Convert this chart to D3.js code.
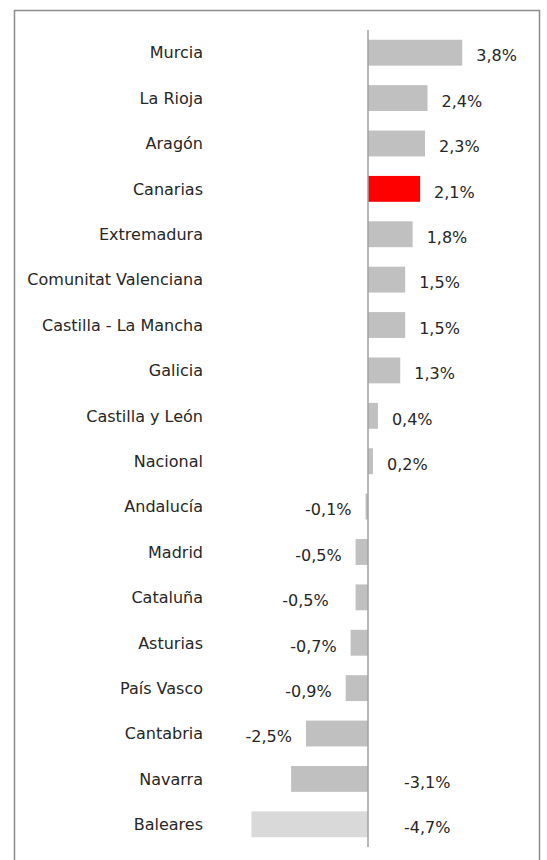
<!DOCTYPE html>
<html><head><meta charset="utf-8">
<script src="https://cdn.jsdelivr.net/npm/d3@7"></script>
<style>
html,body{margin:0;padding:0;background:#fff;}
svg{display:block;}
text{font-family:"DejaVu Sans",Verdana,sans-serif;}
</style></head>
<body><svg id="chart" width="547" height="860"></svg>
<script>
const regions = ["Murcia","La Rioja","Aragón","Canarias","Extremadura","Comunitat Valenciana","Castilla - La Mancha","Galicia","Castilla y León","Nacional","Andalucía","Madrid","Cataluña","Asturias","País Vasco","Cantabria","Navarra","Baleares"];
const values = [3.8,2.4,2.3,2.1,1.8,1.5,1.5,1.3,0.4,0.2,-0.1,-0.5,-0.5,-0.7,-0.9,-2.5,-3.1,-4.7];
const highlight = ["Canarias"];
const lightBars = ["Baleares"];

const svg = d3.select("#chart");
const W = 547, H = 860;
const zeroX = 368, pxPerUnit = 24.8;

const x = d3.scaleLinear().domain([0, 1]).range([zeroX, zeroX + pxPerUnit]);
const y = d3.scaleBand().domain(regions).range([30, 847]).paddingInner(0.43).paddingOuter(0.215);

const locale = d3.formatLocale({decimal: ",", thousands: ".", grouping: [3], currency: ["", "€"], minus: "-"});
const fmt = v => locale.format(".1f")(v) + "%";

// frame
svg.append("path")
  .attr("d", `M14.5,${H} V10.5 H539.5 V${H}`)
  .attr("fill", "none").attr("stroke", "#8c8c8c").attr("stroke-width", 1.5);

const data = regions.map((r, i) => ({r, v: values[i]}));

svg.selectAll("rect.bar").data(data).join("rect")
  .attr("class", "bar")
  .attr("x", d => Math.min(x(0), x(d.v)))
  .attr("y", d => y(d.r))
  .attr("width", d => Math.abs(x(d.v) - x(0)))
  .attr("height", y.bandwidth())
  .attr("fill", d => highlight.includes(d.r) ? "#ff0000" : lightBars.includes(d.r) ? "#d9d9d9" : "#c0c0c0");

// zero axis
svg.append("line")
  .attr("x1", x(0)).attr("x2", x(0))
  .attr("y1", 30).attr("y2", 847)
  .attr("stroke", "#a0a0a0").attr("stroke-width", 1.5);

// category labels
svg.selectAll("text.cat").data(data).join("text")
  .attr("class", "cat")
  .attr("x", 203)
  .attr("y", d => y(d.r) + y.bandwidth() / 2)
  .attr("dy", "0.36em")
  .attr("text-anchor", "end")
  .attr("font-size", 16)
  .attr("fill", "#262626")
  .text(d => d.r);

// value labels
const extraDx = {"Cataluña": -13};
svg.selectAll("text.val").data(data).join("text")
  .attr("class", "val")
  .attr("x", d => {
    if (d.v >= 0) return x(d.v) + 14;
    if (d.v < -3) return x(0) + 36;
    return x(d.v) - 14 + (extraDx[d.r] || 0);
  })
  .attr("y", d => y(d.r) + y.bandwidth() / 2 + 3)
  .attr("dy", "0.36em")
  .attr("text-anchor", d => (d.v >= 0 || d.v < -3) ? "start" : "end")
  .attr("font-size", 16)
  .attr("fill", "#262626")
  .text(d => fmt(d.v));
</script></body></html>
